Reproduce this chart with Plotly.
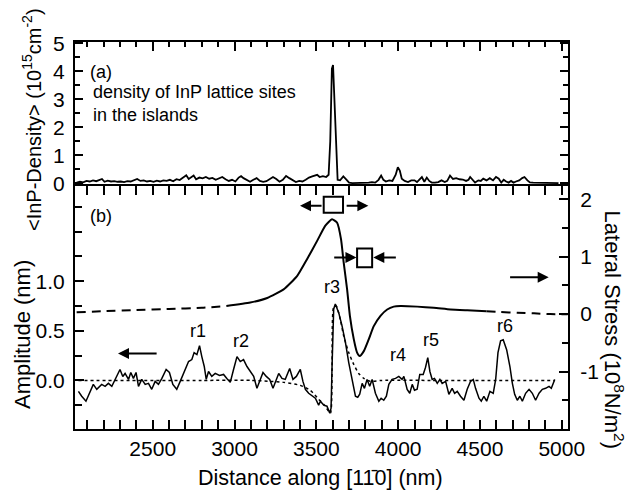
import plotly.graph_objects as go

# ---------------- data ----------------
# (a) InP density (10^15 cm^-2) vs distance (nm)
dens_x = [2035, 2055, 2075, 2095, 2115, 2135, 2155, 2175, 2190, 2205, 2225, 2245, 2265, 2285, 2305,
          2325, 2345, 2365, 2385, 2405, 2425, 2445, 2465, 2485, 2505, 2525, 2545, 2565, 2585, 2605,
          2625, 2645, 2665, 2685, 2705, 2720, 2735, 2750, 2765, 2785, 2805, 2825, 2845, 2865, 2885,
          2905, 2925, 2945, 2965, 2985, 3005, 3025, 3040, 3055, 3075, 3095, 3115, 3135, 3155, 3175,
          3195, 3215, 3235, 3255, 3275, 3295, 3315, 3335, 3355, 3375, 3395, 3415, 3435, 3455, 3475,
          3490, 3505, 3520, 3540, 3560, 3575, 3585, 3595, 3602, 3610, 3620, 3630, 3645, 3665, 3685,
          3700, 3720, 3740, 3760, 3780, 3800, 3820, 3840, 3860, 3880, 3896, 3910, 3925, 3945, 3965,
          3985, 3998, 4010, 4022, 4040, 4060, 4080, 4100, 4115, 4133, 4145, 4160, 4175, 4190, 4205,
          4225, 4245, 4265, 4285, 4300, 4317, 4335, 4355, 4375, 4395, 4415, 4430, 4440, 4455, 4470,
          4490, 4505, 4520, 4540, 4560, 4580, 4598, 4615, 4630, 4645, 4660, 4675, 4690, 4705, 4720,
          4740, 4758, 4772, 4790, 4805, 4825, 4845, 4865, 4880, 4900, 4920, 4940, 4960, 4980]
dens_y = [0.02, 0.05, 0.03, 0.08, 0.06, 0.10, 0.07, 0.12, 0.15, 0.05, 0.09, 0.06, 0.07, 0.05, 0.06,
          0.04, 0.07, 0.06, 0.10, 0.15, 0.08, 0.10, 0.06, 0.08, 0.05, 0.09, 0.06, 0.10, 0.08, 0.12,
          0.07, 0.14, 0.11, 0.20, 0.28, 0.15, 0.22, 0.27, 0.14, 0.20, 0.17, 0.22, 0.16, 0.19, 0.12,
          0.18, 0.22, 0.14, 0.08, 0.12, 0.06, 0.20, 0.25, 0.18, 0.10, 0.05, 0.12, 0.18, 0.08, 0.05,
          0.07, 0.14, 0.22, 0.15, 0.05, 0.12, 0.26, 0.18, 0.10, 0.04, 0.08, 0.06, 0.12, 0.20, 0.24,
          0.28, 0.30, 0.22, 0.25, 0.22, 0.30, 1.50, 4.10, 4.23, 3.00, 1.20, 0.12, 0.10, 0.24, 0.12,
          0.02, 0.00, 0.00, 0.00, 0.00, 0.00, 0.02, 0.04, 0.02, 0.12, 0.27, 0.12, 0.06, 0.10, 0.08,
          0.30, 0.57, 0.45, 0.16, 0.08, 0.04, 0.10, 0.10, 0.04, 0.15, 0.22, 0.05, 0.20, 0.08, 0.02,
          0.02, 0.04, 0.10, 0.04, 0.08, 0.27, 0.15, 0.18, 0.14, 0.13, 0.08, 0.12, 0.22, 0.10, 0.02,
          0.10, 0.08, 0.16, 0.10, 0.18, 0.10, 0.22, 0.16, 0.02, 0.12, 0.06, 0.02, 0.08, 0.02, 0.06,
          0.10, 0.18, 0.22, 0.10, 0.03, 0.02, 0.02, 0.00, 0.00, 0.00, 0.02, 0.00, 0.00, 0.00]

# (b) measured amplitude (nm)
amp_x = [2046, 2066, 2092, 2117, 2137, 2158, 2188, 2209, 2229, 2250, 2270, 2300, 2317, 2331, 2352,
         2366, 2382, 2398, 2413, 2433, 2454, 2474, 2494, 2515, 2535, 2556, 2582, 2602, 2623, 2647,
         2668, 2688, 2719, 2739, 2753, 2770, 2786, 2800, 2815, 2827, 2841, 2861, 2882, 2908, 2933,
         2953, 2974, 2994, 3015, 3035, 3055, 3076, 3096, 3117, 3137, 3157, 3174, 3194, 3215, 3235,
         3255, 3270, 3290, 3310, 3337, 3357, 3378, 3402, 3418, 3433, 3453, 3474, 3494, 3514, 3525,
         3545, 3565, 3582, 3590, 3596, 3606, 3616, 3637, 3657, 3678, 3698, 3718, 3739, 3753, 3765,
         3780, 3794, 3810, 3826, 3841, 3861, 3882, 3896, 3912, 3928, 3943, 3963, 3984, 4004, 4024,
         4035, 4055, 4071, 4086, 4100, 4116, 4132, 4153, 4167, 4181, 4194, 4208, 4222, 4239, 4255,
         4269, 4290, 4310, 4330, 4345, 4361, 4381, 4402, 4422, 4442, 4459, 4473, 4494, 4508, 4524,
         4541, 4561, 4581, 4596, 4610, 4626, 4642, 4663, 4683, 4698, 4712, 4728, 4744, 4759, 4779,
         4800, 4820, 4840, 4861, 4881, 4901, 4922, 4936, 4957]
amp_y = [-0.11, -0.16, -0.21, -0.11, -0.04, -0.09, -0.04, -0.06, -0.03, -0.06, 0.01, 0.11, 0.04, 0.07, 0.01,
         0.08, 0.02, 0.08, -0.06, 0.01, -0.04, -0.03, -0.09, -0.01, -0.04, 0.02, 0.11, 0.08, -0.04, -0.09,
         -0.01, 0.07, 0.19, 0.21, 0.28, 0.26, 0.35, 0.24, 0.14, 0.01, 0.09, 0.04, 0.07, 0.05, 0.06,
         0.02, -0.02, 0.11, 0.24, 0.19, 0.21, 0.14, 0.09, 0.04, -0.08, 0.01, 0.08, 0.04, 0.01, -0.08,
         0.01, 0.07, 0.02, 0.01, 0.12, 0.01, 0.04, 0.11, -0.01, -0.09, -0.13, -0.16, -0.18, -0.25, -0.21,
         -0.25, -0.26, -0.33, -0.28, 0.14, 0.72, 0.77, 0.68, 0.55, 0.38, 0.18, 0.01, -0.16, -0.17, -0.14,
         -0.03, -0.08, 0.01, -0.06, 0.01, -0.13, -0.21, -0.18, -0.20, -0.16, -0.04, 0.01, 0.02, 0.04, 0.01,
         0.04, -0.09, -0.13, -0.04, -0.10, -0.09, 0.06, 0.06, 0.13, 0.23, 0.09, 0.01, 0.02, -0.03, 0.01,
         -0.03, -0.01, -0.14, -0.08, -0.13, -0.11, -0.16, -0.20, -0.09, -0.01, 0.01, -0.08, -0.18, -0.21, -0.16,
         -0.21, -0.11, -0.13, 0.01, 0.28, 0.40, 0.41, 0.31, 0.14, -0.03, -0.14, -0.20, -0.16, -0.21, -0.13,
         -0.09, -0.13, -0.20, -0.13, -0.09, -0.08, -0.06, -0.08, 0.01]

# (b) model amplitude (dotted)
fit_x = [2046, 2400, 2800, 3100, 3220, 3300, 3402, 3463, 3514, 3550, 3586, 3596, 3606, 3622, 3647,
         3667, 3698, 3729, 3759, 3790, 3831, 3900, 4200, 4600, 4957]
fit_y = [0.0, 0.0, 0.0, 0.0, -0.01, -0.02, -0.05, -0.10, -0.19, -0.25, -0.33, 0.10, 0.74, 0.75, 0.61,
         0.45, 0.28, 0.16, 0.07, 0.02, -0.01, 0.0, 0.0, 0.0, 0.0]

# (b) lateral stress (10^8 N/m^2)
stress_x = [2035, 2200, 2400, 2600, 2800, 2950, 3096, 3200, 3300, 3382, 3443, 3504, 3555, 3596, 3627,
            3651, 3667, 3688, 3705, 3729, 3749, 3765, 3790, 3820, 3851, 3892, 3933, 3973, 4014, 4116,
            4218, 4320, 4422, 4540, 4626, 4728, 4830, 4930, 5036]
stress_y = [0.03, 0.05, 0.07, 0.09, 0.11, 0.14, 0.20, 0.28, 0.43, 0.66, 0.955, 1.27, 1.54, 1.65, 1.59,
            1.30, 0.90, 0.43, -0.03, -0.44, -0.67, -0.73, -0.645, -0.44, -0.21, -0.03, 0.08, 0.13, 0.14, 0.13,
            0.11, 0.08, 0.065, 0.05, 0.036, 0.024, 0.013, 0.0, -0.005]
stress_solid_from = 2950
stress_solid_to = 4540

peak_labels = ["r1", "r2", "r3", "r4", "r5", "r6"]
peak_label_x = [2778, 3041, 3598, 3996, 4198, 4651]
peak_label_y = [0.50, 0.40, 0.94, 0.26, 0.41, 0.55]

x_ticks = [2500, 3000, 3500, 4000, 4500, 5000]
dens_ticks = [0, 1, 2, 3, 4, 5]
amp_ticks = [0.0, 0.5, 1.0]
amp_ticktext = ["0.0", "0.5", "1.0"]
stress_ticks = [-1, 0, 1, 2]
stress_ticktext = ["-1", "0", "1", "2"]

# ---------------- figure ----------------
FONT = "Liberation Sans, Arial, Helvetica, sans-serif"
BLACK = "black"
fig = go.Figure()

fig.add_trace(go.Scatter(x=dens_x, y=dens_y, mode="lines", xaxis="x2", yaxis="y2",
                         line=dict(color=BLACK, width=1.8), showlegend=False))
fig.add_trace(go.Scatter(x=fit_x, y=fit_y, mode="lines", xaxis="x", yaxis="y",
                         line=dict(color=BLACK, width=1.5, dash="dot", shape="spline", smoothing=0.6),
                         showlegend=False))
fig.add_trace(go.Scatter(x=amp_x, y=amp_y, mode="lines", xaxis="x", yaxis="y",
                         line=dict(color=BLACK, width=1.5), showlegend=False))

# stress: dashed at the ends, solid in the middle
left_x = [x for x in stress_x if x <= stress_solid_from]
left_y = [y for x, y in zip(stress_x, stress_y) if x <= stress_solid_from]
mid_x = [x for x in stress_x if stress_solid_from <= x <= stress_solid_to]
mid_y = [y for x, y in zip(stress_x, stress_y) if stress_solid_from <= x <= stress_solid_to]
right_x = [x for x in stress_x if x >= stress_solid_to]
right_y = [y for x, y in zip(stress_x, stress_y) if x >= stress_solid_to]
for sx, sy, dash in [(left_x, left_y, "9px,6px"), (mid_x, mid_y, "solid"), (right_x, right_y, "9px,6px")]:
    fig.add_trace(go.Scatter(x=sx, y=sy, mode="lines", xaxis="x", yaxis="y3",
                             line=dict(color=BLACK, width=2, dash=dash, shape="spline", smoothing=0.5),
                             showlegend=False))

axis_common = dict(showline=True, linecolor=BLACK, linewidth=2, showgrid=False, zeroline=False,
                   ticks="inside", tickcolor=BLACK, tickwidth=2,
                   tickfont=dict(family=FONT, size=21, color=BLACK))
minor_x = dict(dtick=100, tick0=0, ticklen=5, ticks="inside", tickcolor=BLACK, tickwidth=2)

fig.update_layout(
    width=629, height=498,
    margin=dict(l=75, r=61, t=42, b=69),
    paper_bgcolor="white", plot_bgcolor="white",
    font=dict(family=FONT, color=BLACK),
    xaxis=dict(**axis_common, domain=[0, 1], anchor="y", range=[2025, 5038], mirror="allticks",
               tickvals=x_ticks, ticklen=9, minor=minor_x),
    xaxis2=dict(**axis_common, domain=[0, 1], anchor="y2", matches="x", side="top",
                tickvals=x_ticks, ticklen=9, showticklabels=False, minor=minor_x),
    yaxis=dict(**axis_common, domain=[0, 0.628], anchor="x", range=[-0.49, 1.96], side="left",
               tickvals=amp_ticks, ticktext=amp_ticktext, ticklen=9, ticklabelstandoff=4,
               minor=dict(tickvals=[-0.25, 0.25, 0.75, 1.25, 1.5, 1.75], ticklen=7, ticks="inside",
                          tickcolor=BLACK, tickwidth=2)),
    yaxis2=dict(**axis_common, domain=[0.628, 1], anchor="x2", range=[-0.1, 5.05], mirror="allticks",
                tickvals=dens_ticks, ticklen=8, ticklabelstandoff=4,
                minor=dict(dtick=0.5, tick0=0, ticklen=5, ticks="inside", tickcolor=BLACK, tickwidth=2)),
    yaxis3=dict(**axis_common, overlaying="y", anchor="x", side="right", range=[-2.0, 2.23],
                tickvals=stress_ticks, ticktext=stress_ticktext, ticklen=9, ticklabelstandoff=6,
                minor=dict(tickvals=[-1.5, -0.5, 0.5, 1.5], ticklen=6, ticks="inside",
                           tickcolor=BLACK, tickwidth=2)),
)

ann = []
# axis titles
ann.append(dict(text="&lt;InP-Density&gt; (10<sup>15</sup>cm<sup>-2</sup>)", xref="paper", yref="paper",
                x=-0.088, y=0.80, textangle=-90, showarrow=False, xanchor="center", yanchor="middle",
                font=dict(size=20, family=FONT)))
ann.append(dict(text="Amplitude (nm)", xref="paper", yref="paper",
                x=-0.108, y=0.245, textangle=-90, showarrow=False, xanchor="center", yanchor="middle",
                font=dict(size=22, family=FONT)))
ann.append(dict(text="Lateral Stress (10<sup>8</sup>N/m<sup>2</sup>)", xref="paper", yref="paper",
                x=1.094, y=0.256, textangle=90, showarrow=False, xanchor="center", yanchor="middle",
                font=dict(size=22, family=FONT)))
ann.append(dict(text="Distance along [11\u03040] (nm)", xref="paper", yref="paper",
                x=0.497, y=-0.127, showarrow=False, xanchor="center", yanchor="middle",
                font=dict(size=21.5, family=FONT)))
# panel labels
ann.append(dict(text="(a)", xref="x2", yref="y2", x=2105, y=3.98, showarrow=False,
                xanchor="left", yanchor="middle", font=dict(size=18, family=FONT)))
ann.append(dict(text="density of InP lattice sites<br>in the islands", xref="x2", yref="y2", x=2125, y=2.84,
                showarrow=False, xanchor="left", yanchor="middle", align="left",
                font=dict(size=18, family=FONT)))
ann.append(dict(text="(b)", xref="x", yref="y", x=2105, y=1.66, showarrow=False,
                xanchor="left", yanchor="middle", font=dict(size=18, family=FONT)))
for t, px, py in zip(peak_labels, peak_label_x, peak_label_y):
    ann.append(dict(text=t, xref="x", yref="y", x=px, y=py, showarrow=False,
                    xanchor="center", yanchor="middle", font=dict(size=18, family=FONT)))

# arrows (head at x,y ; tail at ax,ay)
def arrow(x0, x1, y):
    return dict(text="", xref="x", yref="y", axref="x", ayref="y", x=x1, y=y, ax=x0, ay=y,
                showarrow=True, arrowhead=2, arrowsize=1.1, arrowwidth=2, arrowcolor=BLACK,
                standoff=0, startstandoff=0)

ann.append(arrow(2533, 2288, 0.27))     # amplitude -> left axis
ann.append(arrow(4675, 4920, 1.04))     # stress -> right axis
ann.append(arrow(3541, 3400, 1.76))     # tensile symbol
ann.append(arrow(3676, 3818, 1.76))
ann.append(arrow(3600, 3745, 1.24))     # compressive symbol
ann.append(arrow(3995, 3848, 1.24))
fig.update_layout(annotations=ann)

fig.add_shape(type="rect", xref="x", yref="y", x0=3545, x1=3663, y0=1.69, y1=1.85,
              line=dict(color=BLACK, width=2), fillcolor="white")
fig.add_shape(type="rect", xref="x", yref="y", x0=3749, x1=3841, y0=1.14, y1=1.33,
              line=dict(color=BLACK, width=2), fillcolor="white")

fig.write_html("out.html")
